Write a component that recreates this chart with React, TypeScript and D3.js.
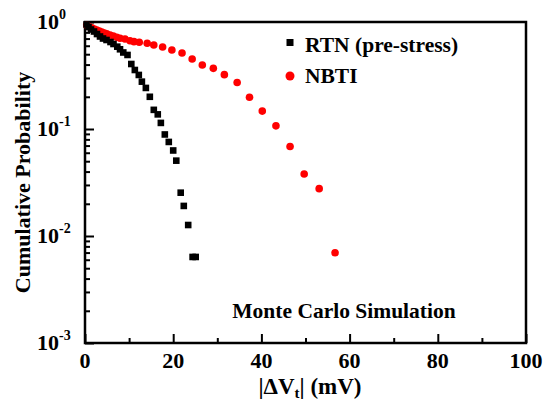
import React, { useEffect, useRef } from "react";
import * as d3 from "d3";

// RTN (pre-stress) points
const rtnDv = [0.34, 0.79, 1.36, 2.04, 2.72, 3.4, 4.08, 4.88, 5.78, 6.46, 7.32, 7.94, 8.68, 9.64, 10.5, 11.3, 12.2, 12.9, 13.8, 14.7, 15.6, 16.5, 17.2, 18.1, 19.0, 20.0, 20.7, 21.7, 22.4, 23.4, 24.4, 25.1];
const rtnProb = [0.948, 0.898, 0.851, 0.815, 0.772, 0.732, 0.701, 0.679, 0.65, 0.623, 0.588, 0.556, 0.519, 0.492, 0.405, 0.356, 0.32, 0.277, 0.242, 0.2, 0.151, 0.137, 0.114, 0.0889, 0.0757, 0.063, 0.0506, 0.0254, 0.0191, 0.01267, 0.00637, 0.00637];

// NBTI points
const nbtiDv = [0.39, 0.98, 1.52, 2.11, 2.65, 3.24, 3.79, 4.38, 4.92, 5.67, 6.42, 7.19, 7.94, 9.07, 10.2, 11.1, 12.3, 14.1, 15.6, 17.6, 19.7, 22.0, 24.3, 26.6, 29.1, 31.6, 34.5, 37.3, 40.2, 43.3, 46.5, 49.7, 53.1, 56.7];
const nbtiProb = [0.937, 0.904, 0.884, 0.86, 0.842, 0.824, 0.806, 0.789, 0.777, 0.756, 0.74, 0.72, 0.704, 0.694, 0.669, 0.655, 0.646, 0.632, 0.61, 0.584, 0.547, 0.513, 0.451, 0.397, 0.369, 0.322, 0.272, 0.198, 0.147, 0.107, 0.0686, 0.038, 0.0277, 0.00698];

const xTicks = [0, 20, 40, 60, 80, 100];
const xMinor = [10, 30, 50, 70, 90];
const yExps = [0, -1, -2, -3];

const W = 544;
const H = 405;
const font = "'Liberation Serif', 'Times New Roman', serif";

export default function App() {
  const ref = useRef<SVGSVGElement>(null);

  useEffect(() => {
    const svg = d3.select(ref.current);
    svg.selectAll("*").remove();

    const x = d3.scaleLinear().domain([0, 100]).range([85, 526]);
    const y = d3.scaleLog().domain([1e-3, 1]).range([343, 22]);

    const g = svg.append("g").attr("font-family", font).attr("font-weight", "bold");

    // minor y ticks
    const yMinor: number[] = [];
    for (let e = -3; e < 0; e++) for (let k = 2; k <= 9; k++) yMinor.push(k * Math.pow(10, e));

    const tickStyle = (a: any) => {
      a.select(".domain").remove();
      a.selectAll("line").attr("stroke-width", 2);
    };

    g.append("g")
      .attr("transform", `translate(${x(0)},0)`)
      .call(d3.axisLeft(y).tickValues(yMinor).tickSize(-5).tickFormat(() => "").tickSizeOuter(0))
      .call(tickStyle);

    g.append("g")
      .attr("transform", `translate(${x(0)},0)`)
      .call(d3.axisLeft(y).tickValues(yExps.map((e) => Math.pow(10, e))).tickSize(-9).tickFormat(() => "").tickSizeOuter(0))
      .call(tickStyle);

    g.append("g")
      .attr("transform", `translate(0,${y(1e-3)})`)
      .call(d3.axisBottom(x).tickValues(xMinor).tickSize(-5).tickFormat(() => "").tickSizeOuter(0))
      .call(tickStyle);

    g.append("g")
      .attr("transform", `translate(0,${y(1e-3)})`)
      .call(d3.axisBottom(x).tickValues(xTicks).tickSize(-9).tickFormat(() => "").tickSizeOuter(0))
      .call(tickStyle);

    // frame
    g.append("rect")
      .attr("x", x(0))
      .attr("y", y(1))
      .attr("width", x(100) - x(0))
      .attr("height", y(1e-3) - y(1))
      .attr("fill", "none")
      .attr("stroke", "#000")
      .attr("stroke-width", 2.5);

    // x tick labels
    g.selectAll(".xl")
      .data(xTicks)
      .join("text")
      .attr("x", (d) => x(d))
      .attr("y", 368)
      .attr("text-anchor", "middle")
      .attr("font-size", 22)
      .text((d) => d);

    // y tick labels
    const yl = g.selectAll(".yl").data(yExps).join("text")
      .attr("x", 37)
      .attr("y", (d) => y(Math.pow(10, d)) + 7)
      .attr("font-size", 22);
    yl.append("tspan").text("10");
    yl.append("tspan").attr("font-size", 14).attr("dy", -10).text((d) => String(d));

    // data
    g.append("g")
      .selectAll("circle")
      .data(nbtiDv)
      .join("circle")
      .attr("cx", (d) => x(d))
      .attr("cy", (d, i) => y(nbtiProb[i]))
      .attr("r", 3.8)
      .attr("fill", "#ff0000");

    g.append("g")
      .selectAll("rect")
      .data(rtnDv)
      .join("rect")
      .attr("x", (d) => x(d) - 3.3)
      .attr("y", (d, i) => y(rtnProb[i]) - 3.3)
      .attr("width", 6.6)
      .attr("height", 6.6)
      .attr("fill", "#000");

    // legend
    g.append("rect").attr("x", 286.5).attr("y", 39).attr("width", 7).attr("height", 7).attr("fill", "#000");
    g.append("text").attr("x", 305).attr("y", 52).attr("font-size", 21.5).text("RTN (pre-stress)");
    g.append("circle").attr("cx", 290).attr("cy", 76).attr("r", 4.5).attr("fill", "#ff0000");
    g.append("text").attr("x", 305).attr("y", 83).attr("font-size", 21.5).text("NBTI");

    g.append("text")
      .attr("x", 344)
      .attr("y", 318)
      .attr("text-anchor", "middle")
      .attr("font-size", 21.5)
      .text("Monte Carlo Simulation");

    // axis titles
    const xt = g.append("text")
      .attr("x", 310)
      .attr("y", 394)
      .attr("text-anchor", "middle")
      .attr("font-size", 23);
    xt.append("tspan").text("|ΔV");
    xt.append("tspan").attr("font-size", 15).attr("dy", 4).text("t");
    xt.append("tspan").attr("dy", -4).text("| (mV)");

    g.append("text")
      .attr("transform", `translate(30,${(y(1) + y(1e-3)) / 2}) rotate(-90)`)
      .attr("text-anchor", "middle")
      .attr("font-size", 22)
      .text("Cumulative Probability");
  }, []);

  return (
    <svg
      ref={ref}
      width={W}
      height={H}
      style={{ position: "absolute", left: 0, top: 0, background: "#fff" }}
    />
  );
}
